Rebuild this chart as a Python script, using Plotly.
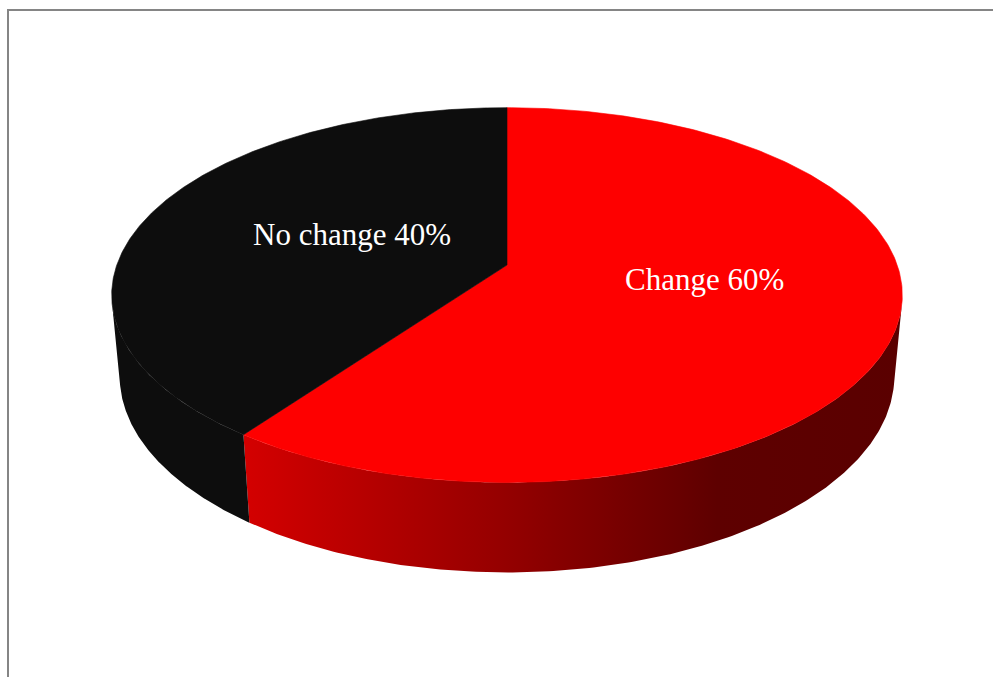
import numpy as np
import plotly.graph_objects as go

# ---- data ----
labels = ["Change", "No change"]
values = [60, 40]
top_colors = ["#fe0000", "#0d0d0d"]
side_colorscales = [
    [[0.0, "#d40000"], [0.4, "#940000"], [0.72, "#5e0000"], [1.0, "#5a0000"]],
    [[0.0, "#0d0d0d"], [1.0, "#0d0d0d"]],
]
label_pos = [(704, 279), (352, 234)]  # text anchor (pixels)

# ---- 3D perspective geometry ----
W, H = 993, 677
CX, CY = 507, 265          # screen position of the pie centre (top face)
F = 2150.0                 # focal length
D = 5.51                   # camera distance (in pie radii)
ELEV = np.radians(27.9)    # camera elevation
T = 0.237                  # pie thickness (in pie radii)
s, c = np.sin(ELEV), np.cos(ELEV)


def project(phi_deg, r=1.0, y=0.0):
    """Project point on the pie (angle clockwise from the back) to screen px."""
    phi = np.radians(np.asarray(phi_deg, dtype=float))
    px, py, pz = r * np.sin(phi), y, -r * np.cos(phi)
    qx, qy, qz = px, py - D * s, pz - D * c
    depth = -(qy * s + qz * c)
    up = qy * c - qz * s
    return CX + F * qx / depth, CY - F * up / depth


# silhouette generator angles of the cylinder
sil = np.degrees(np.arccos(-1.0 / (D * c)))
sil_right, sil_left = sil, 360 - sil

total = sum(values)
starts = np.cumsum([0] + values[:-1]) / total * 360
ends = np.cumsum(values) / total * 360

fig = go.Figure()

# sides (front visible part)
for a0, a1, cs in zip(starts, ends, side_colorscales):
    lo, hi = max(a0, sil_right), min(a1, sil_left)
    if hi <= lo:
        continue
    ang = np.linspace(lo, hi, 200)
    tx, ty = project(ang, 1.0, 0.0)
    bx, by = project(ang[::-1], 1.0, -T)
    xs = np.concatenate([tx, bx, tx[:1]])
    ys = np.concatenate([ty, by, ty[:1]])
    fig.add_trace(go.Scatter(
        x=xs, y=ys, mode="lines", fill="toself",
        line=dict(width=0, color="rgba(0,0,0,0)"),
        fillgradient=dict(type="horizontal", colorscale=cs),
        hoverinfo="skip", showlegend=False))

# top faces
for a0, a1, col in zip(starts, ends, top_colors):
    ang = np.linspace(a0, a1, 300)
    ax, ay = project(ang, 1.0, 0.0)
    ox, oy = project(0.0, 0.0, 0.0)
    xs = np.concatenate([[ox], ax, [ox]])
    ys = np.concatenate([[oy], ay, [oy]])
    fig.add_trace(go.Scatter(
        x=xs, y=ys, mode="lines", fill="toself", fillcolor=col,
        line=dict(width=0.6, color=col),
        hoverinfo="skip", showlegend=False))

# labels
for lab, v, (lx, ly) in zip(labels, values, label_pos):
    fig.add_annotation(
        x=lx, y=ly, text=f"{lab} {round(v / total * 100)}%",
        showarrow=False, xanchor="center", yanchor="middle",
        font=dict(family="Liberation Serif, Times New Roman, serif",
                  size=31, color="white"))

# chart-area frame
fig.add_shape(type="rect", x0=8, y0=10, x1=W + 20, y1=H + 20,
              line=dict(color="#858585", width=2), fillcolor="rgba(0,0,0,0)",
              layer="below")

fig.update_layout(
    width=W, height=H,
    margin=dict(l=0, r=0, t=0, b=0),
    paper_bgcolor="white", plot_bgcolor="white",
    xaxis=dict(range=[0, W], visible=False, fixedrange=True),
    yaxis=dict(range=[H, 0], visible=False, fixedrange=True),
    showlegend=False,
)

fig.write_html("out.html")
